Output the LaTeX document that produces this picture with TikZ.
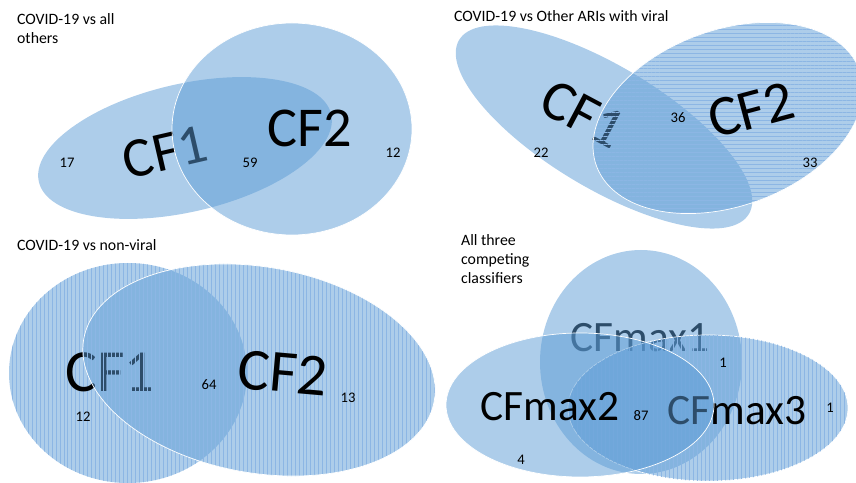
\documentclass[tikz,border=0pt]{standalone}
\usepackage{fontspec}
\setmainfont{Carlito}
\usetikzlibrary{patterns.meta}

\definecolor{vennblue}{RGB}{91,155,213}
\definecolor{hatchblue}{RGB}{140,182,228}
\definecolor{shadedtext}{RGB}{45,77,106}

\tikzset{
    venn/.style={fill=vennblue, fill opacity=0.5},
    rim/.style={draw=white, line width=0.6pt},
    hlines/.style={pattern={Lines[angle=0,distance=3.4pt,line width=0.4pt]}, pattern color=hatchblue},
    vlines/.style={pattern={Lines[angle=90,distance=3.4pt,line width=0.4pt]}, pattern color=hatchblue},
    title/.style={anchor=base west, align=left, font=\fontsize{13.5}{16.5}\selectfont},
    count/.style={font=\fontsize{12.5}{14}\selectfont},
    setname/.style={font=\fontsize{#1}{#1}\selectfont},
}

\begin{document}
\begin{tikzpicture}[x=0.03cm, y=-0.03cm]
        \clip (0,0) rectangle (856,483);

        % COVID-19 vs all others
        \path[venn, rotate around={13:(185,148)}] (185,148) ellipse [x radius=150, y radius=64];
        \node[setname=48, rotate=13] (cfa1) at (165,152) {CF1};
        \path[venn, rim] (292,129) ellipse [x radius=120, y radius=106];
        \node[setname=48] (cfa2) at (310,128) {CF2};
        \node[title] (ta) at (13,44) {COVID-19 vs all\\others};
        \node[count] (na1) at (67,163) {17};
        \node[count] (na12) at (250,163) {59};
        \node[count] (na2) at (393,153) {12};

        % COVID-19 vs Other ARIs with viral
        \path[venn, rotate around={-31:(604,127)}] (604,127) ellipse [x radius=169, y radius=61];
        \node[setname=49, rotate=-28] (cfb1) at (583,114) {CF1};
        \path[venn, rotate around={20:(728,118)}] (728,118) ellipse [x radius=140, y radius=88];
        \path[hlines, rim, rotate around={20:(728,118)}] (728,118) ellipse [x radius=140, y radius=88];
        \node[setname=49, rotate=15] (cfb2) at (751,110) {CF2};
        \node[title] (tb) at (450,22) {COVID-19 vs Other ARIs with viral};
        \node[count] (nb1) at (541,153) {22};
        \node[count] (nb12) at (678,118) {36};
        \node[count] (nb2) at (810,163) {33};

        % COVID-19 vs non-viral
        \path[venn] (128,373) ellipse [x radius=119, y radius=110];
        \path[vlines] (128,373) ellipse [x radius=119, y radius=110];
        \node[setname=51] (cfc1) at (110,372) {CF1};
        \path[venn, rotate around={-10:(259,370)}] (259,370) ellipse [x radius=178, y radius=103];
        \path[vlines, rim, rotate around={-10:(259,370)}] (259,370) ellipse [x radius=178, y radius=103];
        \node[setname=51, rotate=-5] (cfc2) at (283,373) {CF2};
        \node[title] (tc) at (13,251) {COVID-19 vs non-viral};
        \node[count] (nc1) at (83,417) {12};
        \node[count] (nc12) at (209,385) {64};
        \node[count] (nc2) at (348,398) {13};

        % All three competing classifiers
        \path[venn] (641,362) ellipse [x radius=101, y radius=112];
        \node[setname=37, text=shadedtext] (cmax1) at (640,338) {CFmax1};
        \path[venn, rim] (708,408) ellipse [x radius=140, y radius=73];
        \path[vlines] (708,408) ellipse [x radius=140, y radius=73];
        \node[setname=37] (cmax3) at (737,411) {CFmax3};
        \path[venn, rim] (580,405) ellipse [x radius=134, y radius=72];
        \node[setname=37] (cmax2) at (550,407) {CFmax2};
        \node[title] (td) at (457,284) {All three\\competing\\classifiers};
        \node[count] (nd1) at (723,363) {1};
        \node[count] (nd3) at (830,408) {1};
        \node[count] (nd123) at (641,416) {87};
        \node[count] (nd2) at (521,460) {4};
      \end{tikzpicture}
\end{document}
